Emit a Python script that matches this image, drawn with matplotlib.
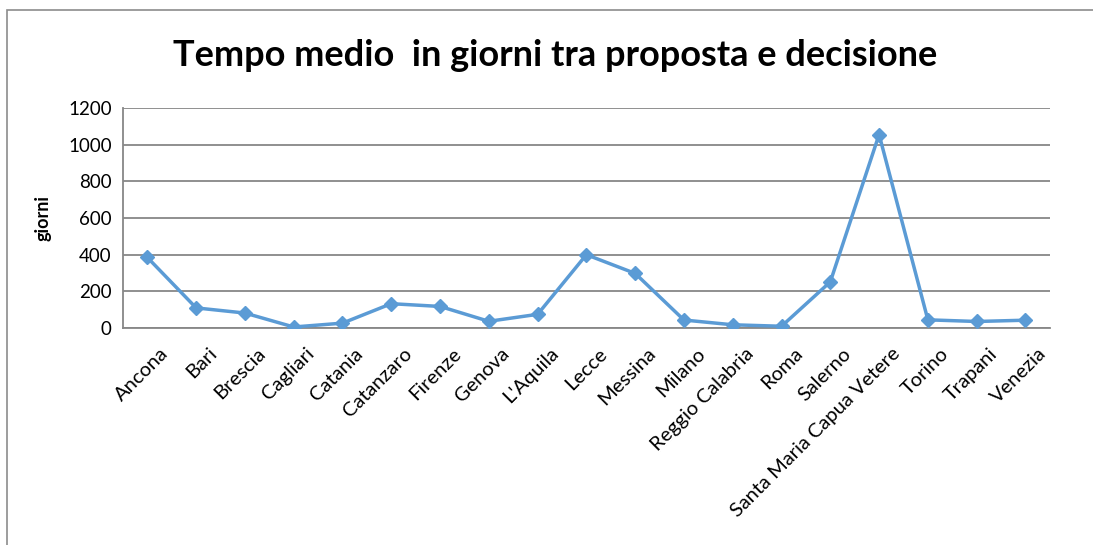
import matplotlib.pyplot as plt
import matplotlib.patches as mpatches
import matplotlib.transforms as mtransforms

# tempo medio (giorni) tra proposta e decisione, per sede
sedi = ['Ancona', 'Bari', 'Brescia', 'Cagliari', 'Catania', 'Catanzaro',
        'Firenze', 'Genova', "L'Aquila", 'Lecce', 'Messina', 'Milano',
        'Reggio Calabria', 'Roma', 'Salerno', 'Santa Maria Capua Vetere',
        'Torino', 'Trapani', 'Venezia']
giorni = [385, 110, 82, 6, 27, 133, 118, 37, 75, 400, 298, 44, 18, 10,
          252, 1055, 45, 36, 43]
yticks = [0, 200, 400, 600, 800, 1000, 1200]

plt.rcParams.update({'font.family': 'Lato'})
blu = '#5B9BD5'
grigio = '#878787'

fig = plt.figure(figsize=(10.93, 5.45), dpi=100)
ax = fig.add_axes([0.1125, 0.398, 0.848, 0.404])

# cornice del grafico
fig.patches.append(mpatches.Rectangle((7 / 1093, -0.1), 1.2, 1.1 - 10 / 545,
                                      transform=fig.transFigure, fill=False,
                                      edgecolor='#8c8c8c', linewidth=1.2))

x = range(len(sedi))
ax.plot(x, giorni, color=blu, linewidth=2.5, marker='D', markersize=7.5,
        markeredgecolor=blu, zorder=3)

ax.set_xlim(-0.5, len(sedi) - 0.5)
ax.set_ylim(0, 1200)
ax.set_yticks(yticks)
ax.set_yticklabels([str(v) for v in yticks], fontsize=13.5)
ax.set_xticks(list(x))
ax.set_xticklabels(sedi, rotation=45, ha='right', rotation_mode='anchor',
                   fontsize=14.5)
ax.tick_params(axis='both', length=0, pad=8)
ax.tick_params(axis='x', pad=12)

# etichette spostate un po' a destra
sposta = mtransforms.ScaledTranslation(12 / 100, 0, fig.dpi_scale_trans)
for lab in ax.get_xticklabels():
    lab.set_transform(lab.get_transform() + sposta)

ax.yaxis.grid(True, color=grigio, linewidth=1.3)
ax.set_axisbelow(True)
for s in ['top', 'right']:
    ax.spines[s].set_visible(False)
ax.spines['left'].set_color(grigio)
ax.spines['bottom'].set_color(grigio)
ax.spines['left'].set_linewidth(1.3)
ax.spines['bottom'].set_linewidth(1.3)

ax.set_ylabel('giorni', fontsize=13, fontweight='bold', labelpad=12)

fig.text(0.508, 0.898, 'Tempo medio  in giorni tra proposta e decisione',
         ha='center', va='center', fontsize=26, fontweight='bold')

fig.savefig('out.png', dpi=100)
